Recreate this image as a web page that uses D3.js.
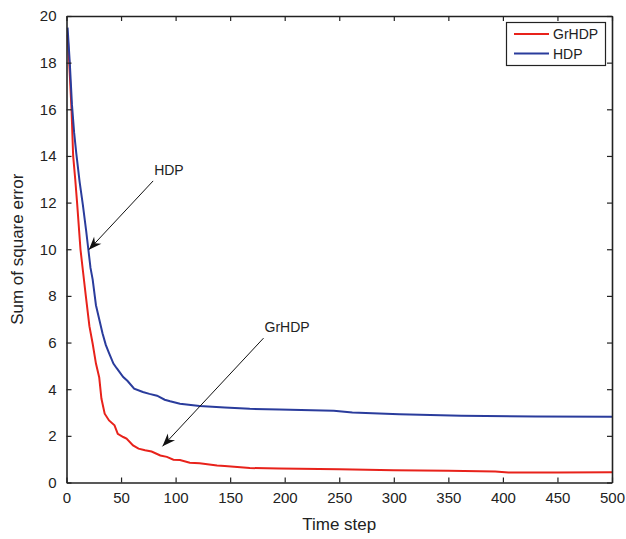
<!DOCTYPE html>
<html><head><meta charset="utf-8">
<script src="https://cdn.jsdelivr.net/npm/d3@7"></script>
<style>body{margin:0;background:#fff}svg{display:block}text{font-family:"Liberation Sans",Arial,sans-serif;fill:#222}</style>
</head><body>
<script>
const seriesNames = ["GrHDP", "HDP"];
const grhdpX = [1, 2.5, 4.6, 6.1, 8, 9.7, 12.8, 15, 17.7, 21, 24, 27, 30, 32, 35, 39, 44, 47, 52, 55, 61, 66, 72, 78, 86, 92, 98, 104, 113, 122, 138, 145, 168, 195, 250, 300, 350, 393, 405, 450, 500];
const grhdpY = [19.2, 18.0, 16.0, 14.0, 13.0, 12.0, 10.0, 9.1, 8.0, 6.7, 5.95, 5.1, 4.5, 3.6, 2.95, 2.66, 2.45, 2.09, 1.95, 1.88, 1.59, 1.45, 1.38, 1.33, 1.16, 1.1, 0.98, 0.96, 0.85, 0.83, 0.73, 0.71, 0.62, 0.6, 0.57, 0.53, 0.5, 0.47, 0.43, 0.43, 0.44];
const hdpX = [1, 3, 5, 7, 9, 12, 15, 18, 20, 22, 24, 27, 30, 33, 36, 39, 43, 46, 52, 56, 62, 70, 76, 83, 90, 95, 104, 122, 145, 168, 195, 245, 262, 305, 362, 430, 500];
const hdpY = [19.5, 18.0, 16.2, 15.0, 14.1, 12.9, 11.9, 10.8, 10.0, 9.2, 8.7, 7.6, 7.0, 6.4, 5.9, 5.55, 5.1, 4.9, 4.52, 4.35, 4.02, 3.88, 3.8, 3.72, 3.55, 3.48, 3.38, 3.28, 3.22, 3.16, 3.13, 3.08, 3.0, 2.93, 2.86, 2.83, 2.82];
const xTicks = [0, 50, 100, 150, 200, 250, 300, 350, 400, 450, 500];
const yTicks = [0, 2, 4, 6, 8, 10, 12, 14, 16, 18, 20];
const annotations = [
  {label: "HDP", from: [79.4, 12.93], to: [20.5, 9.98]},
  {label: "GrHDP", from: [180.6, 6.19], to: [88, 1.55]}
];
const colors = ["#e8221b", "#2a3c9c"];

const W = 626, H = 539;
const L = 66.5, R = 612, T = 16, B = 482.5;
const svg = d3.select("body").append("svg").attr("width", W).attr("height", H);
const x = d3.scaleLinear().domain([0, 500]).range([L, R]);
const y = d3.scaleLinear().domain([0, 20]).range([B, T]);

svg.append("defs").append("marker").attr("id", "ah")
  .attr("viewBox", "-14 -6 16 12").attr("refX", 0).attr("refY", 0)
  .attr("markerWidth", 16).attr("markerHeight", 12).attr("markerUnits", "userSpaceOnUse")
  .attr("orient", "auto")
  .append("path").attr("d", "M0,0 L-13,-5 L-9,0 L-13,5 Z").attr("fill", "#111");

const clip = svg.append("clipPath").attr("id", "c").append("rect")
  .attr("x", L).attr("y", T).attr("width", R - L).attr("height", B - T);

const line = d3.line().x(d => x(d[0])).y(d => y(d[1]));
const series = [grhdpX.map((v, i) => [v, grhdpY[i]]), hdpX.map((v, i) => [v, hdpY[i]])];
series.forEach((s, i) => {
  svg.append("path").datum(s).attr("d", line).attr("fill", "none")
    .attr("stroke", colors[i]).attr("stroke-width", 2).attr("clip-path", "url(#c)");
});

// axes (ticks inward on all sides)
const fmt = d3.format("d");
const ax = [
  d3.axisBottom(x).tickValues(xTicks).tickSizeInner(-5).tickSizeOuter(0).tickPadding(10).tickFormat(fmt),
  d3.axisTop(x).tickValues(xTicks).tickSizeInner(-5).tickSizeOuter(0).tickFormat(""),
  d3.axisLeft(y).tickValues(yTicks).tickSizeInner(-5).tickSizeOuter(0).tickPadding(10).tickFormat(fmt),
  d3.axisRight(y).tickValues(yTicks).tickSizeInner(-5).tickSizeOuter(0).tickFormat("")
];
const pos = [[0, B], [0, T], [L, 0], [R, 0]];
ax.forEach((a, i) => {
  const g = svg.append("g").attr("transform", `translate(${pos[i][0]},${pos[i][1]})`).call(a);
  g.select(".domain").attr("stroke", "#222").attr("stroke-width", 1.6);
  g.selectAll(".tick line").attr("stroke", "#222").attr("stroke-width", 1.2);
  g.selectAll("text").attr("font-size", 15).attr("fill", "#222")
    .attr("font-family", "'Liberation Sans', Arial, sans-serif");
});

svg.append("text").attr("x", (L + R) / 2).attr("y", 530).attr("text-anchor", "middle")
  .attr("font-size", 17).text("Time step");
svg.append("text").attr("transform", `translate(23,${(T + B) / 2}) rotate(-90)`)
  .attr("text-anchor", "middle").attr("font-size", 17).text("Sum of square error");

// annotations
annotations.forEach(a => {
  svg.append("line").attr("x1", x(a.from[0])).attr("y1", y(a.from[1]))
    .attr("x2", x(a.to[0])).attr("y2", y(a.to[1]))
    .attr("stroke", "#111").attr("stroke-width", 1).attr("marker-end", "url(#ah)");
  svg.append("text").attr("x", x(a.from[0]) + 1).attr("y", y(a.from[1]) - 6)
    .attr("font-size", 14).text(a.label);
});

// legend
const lg = svg.append("g");
lg.append("rect").attr("x", 506.5).attr("y", 22.5).attr("width", 99).attr("height", 43)
  .attr("fill", "#fff").attr("stroke", "#222").attr("stroke-width", 1.2);
seriesNames.forEach((n, i) => {
  const yy = 34 + i * 19.5;
  lg.append("line").attr("x1", 514).attr("x2", 549).attr("y1", yy).attr("y2", yy)
    .attr("stroke", colors[i]).attr("stroke-width", 2);
  lg.append("text").attr("x", 553).attr("y", yy + 5).attr("font-size", 14).text(n);
});
</script>
</body></html>
